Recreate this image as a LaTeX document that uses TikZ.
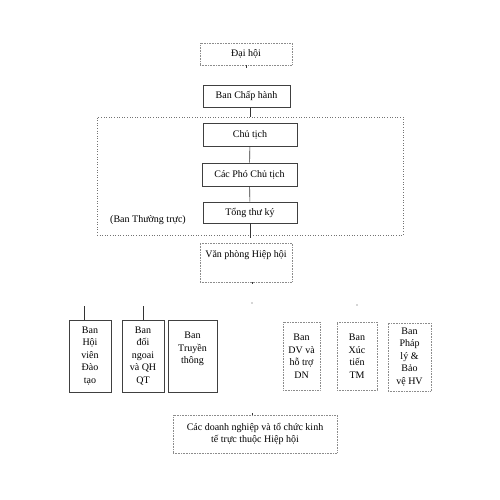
\documentclass[tikz,border=0pt]{standalone}
\usepackage{fontspec}
\setmainfont{Liberation Serif}

\begin{document}
\begin{tikzpicture}[x=1pt, y=-1pt,
  font=\fontsize{10}{12.5}\selectfont,
  unit/.style={rectangle, draw=black!75, line width=0.6pt, inner sep=1pt, align=center},
  faintunit/.style={unit, draw=black!45, densely dotted},
  group/.style={rectangle, draw=black!55, line width=0.6pt, dotted, inner sep=0pt},
  link/.style={draw=black!80, line width=0.6pt}
]
\useasboundingbox (0,0) rectangle (500,500);

\node (thuongtruc) [group, minimum width=306, minimum height=118] at (250,176) {};

\node (daihoi) [faintunit, minimum width=92, minimum height=22] at (246,54) {Đại hội};
\node (chaphanh) [unit, minimum width=87, minimum height=22] at (246.5,96) {Ban Chấp hành};
\node (chutich) [unit, minimum width=94, minimum height=23] at (250,134.5) {Chủ tịch};
\node (phochutich) [unit, minimum width=95, minimum height=23] at (249.5,174.5) {Các Phó Chủ tịch};
\node (tongthuky) [unit, minimum width=94, minimum height=21] at (250,212.5) {Tổng thư ký};
\node (bantt) at (148,220) {(Ban Thường trực)};
\node (vanphong) [faintunit, minimum width=92, minimum height=39] at (246,262.5) {Văn phòng Hiệp hội\\ \strut};

\node (hoivien) [unit, minimum width=42, minimum height=72] at (90,356) {Ban\\Hội\\viên\\Đào\\tạo};
\node (doingoai) [unit, minimum width=42, minimum height=72] at (143,356) {Ban\\đối\\ngoai\\và QH\\QT};
\node (truyenthong) [unit, minimum width=49, minimum height=72] at (192.5,356) {Ban\\Truyền\\thông\\ \strut};
\node (dichvu) [faintunit, minimum width=37, minimum height=68] at (301.5,356) {Ban\\DV và\\hỗ trợ\\DN};
\node (xuctien) [faintunit, minimum width=40, minimum height=68] at (357,356) {Ban\\Xúc\\tiến\\TM};
\node (phaply) [faintunit, minimum width=43, minimum height=68] at (409.5,357) {Ban\\Pháp\\lý \&\\Bảo\\vệ HV};

\node (cacdn) [faintunit, minimum width=164, minimum height=38] at (255,434) {Các doanh nghiệp và tổ chức kinh\\tế trực thuộc Hiệp hội};

% connectors
\draw [link] (chaphanh.south -| chutich.north) -- (thuongtruc.north -| chutich.north);
\draw [link] (chutich) -- (phochutich);
\draw [link] (phochutich) -- (tongthuky);
\draw [link] (tongthuky.south) -- ++(0,15);
\draw [link] ([xshift=-6pt]hoivien.north) -- ++(0,-14);
\draw [link] (doingoai.north) -- ++(0,-14);

% leftover marks
\draw [link] (daihoi.south) -- ++(0,3);
\draw [link] ([xshift=6pt]vanphong.south) -- ++(0,1.5);
\draw [link] ([xshift=-3pt]cacdn.north) -- ++(0,-1.5);
\fill [black!70] (252,303) circle (0.7);
\fill [black!70] (357,305) circle (0.7);

\end{tikzpicture}
\end{document}
